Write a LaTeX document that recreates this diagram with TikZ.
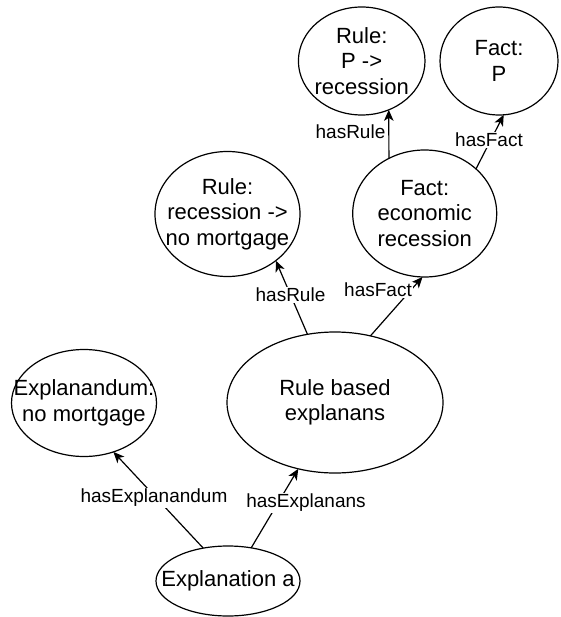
\documentclass[tikz,border=0pt]{standalone}
\usepackage{fontspec}
\setmainfont{Liberation Sans}
\usetikzlibrary{shapes.geometric,arrows.meta}
\tikzset{
  concept/.style={ellipse, draw=black, line width=1.2pt, inner sep=0pt, outer sep=0pt},
  ctext/.style={align=center, inner sep=0pt, font=\fontsize{22}{25.5}\selectfont},
  relhead/.tip={Stealth[length=11pt,width=9.5pt,inset=3pt]},
  rel/.style={draw=black, line width=1.2pt, -relhead},
  rellabel/.style={fill=white, inner sep=1.5pt, font=\fontsize{19}{22}\selectfont},
}
\begin{document}
\begin{tikzpicture}[x=1pt,y=-1pt]
\useasboundingbox (0,0) rectangle (560,617);

% concepts
\node[concept, minimum width=126.6pt, minimum height=108pt,
      label={[ctext]center:{Rule:\\P ->\\recession}}] (rp) at (361.7,61) {};
\node[concept, minimum width=118pt, minimum height=108pt,
      label={[ctext]center:{Fact:\\P}}] (fp) at (499,61) {};
\node[concept, minimum width=145pt, minimum height=125pt,
      label={[ctext]center:{Rule:\\recession ->\\no mortgage}}] (rr) at (227.5,214) {};
\node[concept, minimum width=144pt, minimum height=127pt,
      label={[ctext]center:{Fact:\\economic\\recession}}] (ec) at (424.7,213.5) {};
\node[concept, minimum width=145pt, minimum height=107pt,
      label={[ctext]center:{Explanandum:\\no mortgage}}] (ed) at (84,403) {};
\node[concept, minimum width=216pt, minimum height=141pt,
      label={[ctext]center:{Rule based\\explanans}}] (rb) at (335,402.5) {};
\node[concept, minimum width=144pt, minimum height=70pt,
      label={[ctext]center:{Explanation a}}] (ea) at (228,581) {};

% relations
\draw[rel] (ea.127.5) -- (ed.-59.2);
\draw[rel] (ea.55.4) -- (rb.-119.9);
\draw[rel] (rb.112.7) -- (rr.-44.5);
\draw[rel] (rb.62) -- (ec.-92.7);
\draw[rel] (ec.123) -- (rp.-61.4);
\draw[rel] (ec.41) -- (fp.-85.8);

% relation names
\node[rellabel] (l1) at (154,498) {hasExplanandum};
\node[rellabel] (l2) at (306,503) {hasExplanans};
\node[rellabel] (l3) at (290.5,295) {hasRule};
\node[rellabel] (l4) at (378,290) {hasFact};
\node[rellabel] (l5) at (350.5,132) {hasRule};
\node[rellabel] (l6) at (489,140) {hasFact};
\end{tikzpicture}
\end{document}
